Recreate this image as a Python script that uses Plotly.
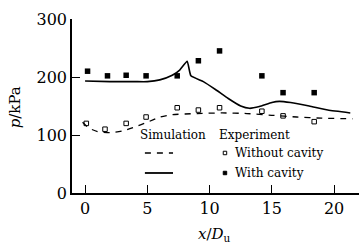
import plotly.graph_objects as go

# Experiment data
x_with = [0.2, 1.8, 3.3, 4.9, 7.4, 9.1, 10.8, 14.2, 15.9, 18.4]
p_with = [210, 202, 203, 202, 202, 228, 245, 202, 173, 173]
x_without = [0.1, 1.6, 3.3, 4.9, 7.4, 9.1, 10.8, 14.2, 15.9, 18.4]
p_without = [120, 110, 120, 131, 147, 143, 147, 141, 133, 123]

# Simulation curves
sim_x_with = [0, 2, 4, 5, 6, 7, 7.6, 8.2, 8.5, 9.5, 10.5, 11.5, 12.5, 13.2, 14, 15, 15.6, 16.5, 18, 19.5, 21.3]
sim_p_with = [193, 192, 192, 192, 195, 203, 212, 227, 202, 192, 178, 163, 150, 146, 149, 156, 158, 156, 150, 143, 138]
sim_x_without = [-0.2, 0.3, 1, 2, 3, 4, 5, 6, 7, 9, 11, 13, 15, 17, 19, 21.5]
sim_p_without = [122, 112, 106, 104, 107, 114, 122, 131, 135, 137, 138, 137, 134, 131, 129, 128]

FONT = "DejaVu Serif"

fig = go.Figure()
fig.add_trace(go.Scatter(x=sim_x_without, y=sim_p_without, mode="lines",
                         line=dict(color="black", width=1.3, dash="6px,6px", shape="spline", smoothing=0.6),
                         showlegend=False))
fig.add_trace(go.Scatter(x=sim_x_with, y=sim_p_with, mode="lines",
                         line=dict(color="black", width=1.6, shape="spline", smoothing=0.4),
                         showlegend=False))
fig.add_trace(go.Scatter(x=x_without, y=p_without, mode="markers",
                         marker=dict(symbol="square-open", size=4.5, color="black", line=dict(width=1)),
                         showlegend=False))
fig.add_trace(go.Scatter(x=x_with, y=p_with, mode="markers",
                         marker=dict(symbol="square", size=5.5, color="black"),
                         showlegend=False))

def txt(x, y, s, size=12, **kw):
    d = dict(x=x, y=y, xref="paper", yref="paper", text=s, showarrow=False,
             xanchor="left", yanchor="middle", font=dict(family=FONT, size=size, color="black"))
    d.update(kw)
    return d

ann = [
    txt(0.23, 0.333, "Simulation"),
    txt(0.505, 0.333, "Experiment"),
    txt(0.561, 0.23, "Without cavity"),
    txt(0.561, 0.115, "With cavity"),
    txt(-0.2, 0.49, "<i>p</i>/kPa", size=15, textangle=-90, xanchor="center"),
    txt(0.495, -0.24, "<i>x</i>/<i>D</i><sub>u</sub>", size=15, xanchor="center"),
]

shapes = [
    dict(type="line", xref="paper", yref="paper", x0=0.254, x1=0.352, y0=0.23, y1=0.23,
         line=dict(color="black", width=1.3, dash="6px,6px")),
    dict(type="line", xref="paper", yref="paper", x0=0.254, x1=0.352, y0=0.115, y1=0.115,
         line=dict(color="black", width=1.8)),
    dict(type="rect", xref="paper", yref="paper", x0=0.527, x1=0.539, y0=0.22, y1=0.24,
         line=dict(color="black", width=1), fillcolor="white"),
    dict(type="rect", xref="paper", yref="paper", x0=0.527, x1=0.539, y0=0.105, y1=0.125,
         line=dict(color="black", width=1), fillcolor="black"),
]

fig.update_layout(
    width=360, height=247,
    margin=dict(l=72, r=1, t=19, b=54),
    plot_bgcolor="white", paper_bgcolor="white",
    annotations=ann, shapes=shapes,
    font=dict(family=FONT, size=16, color="black"),
)
fig.update_xaxes(range=[-1.05, 22], tickvals=[0, 5, 10, 15, 20], ticks="inside", ticklen=8,
                 tickwidth=1.3, tickcolor="black", showline=True, linecolor="black", linewidth=1.5,
                 showgrid=False, zeroline=False, tickfont=dict(family=FONT, size=16), automargin=False)
fig.update_yaxes(range=[0, 300], tickvals=[0, 100, 200, 300], ticks="inside", ticklen=8,
                 tickwidth=1.3, tickcolor="black", showline=True, linecolor="black", linewidth=1.5,
                 showgrid=False, zeroline=False, tickfont=dict(family=FONT, size=16), automargin=False)

fig.write_html("out.html", config={"displayModeBar": False},
               post_script="document.body.style.margin='0';")
